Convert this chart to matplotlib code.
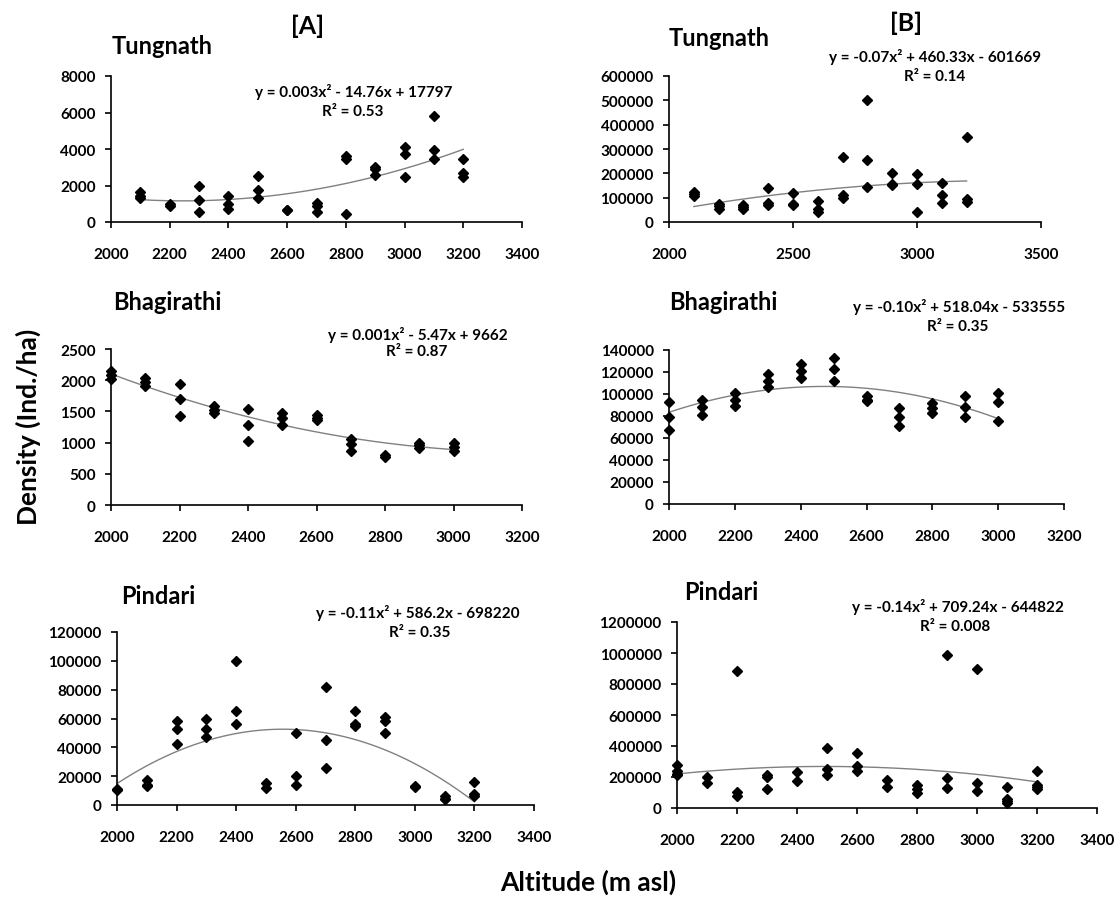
import matplotlib
matplotlib.use("Agg")
import matplotlib.pyplot as plt
import numpy as np

plt.rcParams['font.family'] = ['Lato', 'DejaVu Sans']
plt.rcParams['font.weight'] = 'bold'

# ---- data (altitude in m asl, density in ind./ha) ----
tung_a_alt = [2100, 2200, 2300, 2400, 2500, 2600, 2700, 2800, 2900, 3000, 3100, 3200]
tung_a_vals = [[1650, 1450, 1300], [1000, 900], [2000, 1200, 550], [1400, 1000, 700],
               [2500, 1750, 1300], [680, 640], [1050, 900, 550], [3600, 3450, 450],
               [3000, 2880, 2580], [4100, 3700, 2450], [5800, 3950, 3450], [3450, 2700, 2450]]

tung_b_alt = [2100, 2200, 2300, 2400, 2500, 2600, 2700, 2800, 2900, 3000, 3100, 3200]
tung_b_vals = [[125000, 115000, 108000], [75000, 65000, 55000], [68000, 60000, 52000],
               [138000, 80000, 70000], [118000, 74000, 70000], [86000, 52000, 42000],
               [268000, 110000, 99000], [503000, 253000, 144000], [200000, 158000, 153000],
               [196000, 155000, 43000], [162000, 110000, 77000], [350000, 95000, 84000]]

bhag_a_alt = [2000, 2100, 2200, 2300, 2400, 2500, 2600, 2700, 2800, 2900, 3000]
bhag_a_vals = [[2150, 2080, 2020], [2040, 1970, 1900], [1940, 1700, 1430], [1580, 1530, 1480],
               [1540, 1280, 1020], [1480, 1390, 1280], [1450, 1400, 1360], [1050, 980, 860],
               [800, 770], [1000, 960, 915], [990, 935, 860]]

bhag_b_alt = [2000, 2100, 2200, 2300, 2400, 2500, 2600, 2700, 2800, 2900, 3000]
bhag_b_vals = [[93000, 79500, 67000], [95000, 88500, 81000], [101000, 95000, 89500],
               [118000, 112000, 106000], [127500, 121000, 115000], [133000, 122500, 112000],
               [98500, 95000, 94000], [87000, 79500, 70500], [92000, 87000, 82500],
               [98000, 88500, 79500], [101000, 92500, 75500]]

pind_a_alt = [2000, 2100, 2200, 2300, 2400, 2500, 2600, 2700, 2800, 2900, 3000, 3100, 3200]
pind_a_vals = [[11000, 10500], [17500, 14000, 13000], [58000, 52500, 42500], [60000, 53000, 47500],
               [100000, 65500, 56500], [15500, 12000], [50000, 20000, 14000], [82000, 45000, 25500],
               [65500, 56000, 55000], [61000, 58500, 50000], [13000, 12500], [6000, 4500, 4000],
               [16000, 7800, 6000]]

pind_b_alt = [2000, 2100, 2200, 2300, 2400, 2500, 2600, 2700, 2800, 2900, 3000, 3100, 3200]
pind_b_vals = [[280000, 237000, 220000, 210000], [200000, 163000], [886000, 103000, 78000],
               [215000, 198000, 125000], [232000, 172000], [389000, 251000, 210000],
               [357000, 268000, 237000], [178000, 135000], [146000, 125000, 99000],
               [985000, 193000, 131000], [895000, 161000, 110000], [138000, 56000, 45000, 32000],
               [237000, 146000, 135000, 120000]]

site_names = ["Tungnath", "Tungnath", "Bhagirathi", "Bhagirathi", "Pindari", "Pindari"]
equations = ["y = 0.003x² - 14.76x + 17797", "y = -0.07x² + 460.33x - 601669",
             "y = 0.001x² - 5.47x + 9662", "y = -0.10x² + 518.04x - 533555",
             "y = -0.11x² + 586.2x - 698220", "y = -0.14x² + 709.24x - 644822"]
r2_labels = ["R² = 0.53", "R² = 0.14", "R² = 0.87", "R² = 0.35", "R² = 0.35", "R² = 0.008"]

W, H = 1115, 903
fig = plt.figure(figsize=(W / 100, H / 100), dpi=100)


def px_axes(left, top, right, bottom):
    return fig.add_axes([left / W, 1 - bottom / H, (right - left) / W, (bottom - top) / H])


def ftext(x, y, s, **kw):
    fig.text(x / W, 1 - y / H, s, **kw)


panels = [
    # data, axes box (px), xlim, xstep, ylim, ystep, title pos, eq pos, r2 pos
    (tung_a_alt, tung_a_vals, (111, 77, 522, 223), (2000, 3400), 200, (0, 8000), 2000,
     (112, 47), (354, 92), (353, 112)),
    (tung_b_alt, tung_b_vals, (669, 77, 1041, 223), (2000, 3500), 500, (0, 600000), 100000,
     (669, 38), (935, 57), (935, 77)),
    (bhag_a_alt, bhag_a_vals, (111, 350, 522, 506), (2000, 3200), 200, (0, 2500), 500,
     (113, 302), (418, 335), (417, 352)),
    (bhag_b_alt, bhag_b_vals, (669, 351, 1064, 505), (2000, 3200), 200, (0, 140000), 20000,
     (669, 303), (959, 307), (958, 327)),
    (pind_a_alt, pind_a_vals, (117, 633, 534, 806), (2000, 3400), 200, (0, 120000), 20000,
     (121, 597), (418, 613), (420, 633)),
    (pind_b_alt, pind_b_vals, (677, 623, 1097, 809), (2000, 3400), 200, (0, 1200000), 200000,
     (684, 592), (958, 607), (955, 627)),
]

for i, (alt, vals, box, xlim, xstep, ylim, ystep, tpos, epos, rpos) in enumerate(panels):
    ax = px_axes(*box)
    xs = np.concatenate([[a] * len(v) for a, v in zip(alt, vals)]).astype(float)
    ys = np.concatenate(vals).astype(float)

    # Excel-style 2nd order polynomial trend line over the data range
    coef = np.polyfit(xs, ys, 2)
    xf = np.linspace(xs.min(), xs.max(), 200)
    ax.plot(xf, np.polyval(coef, xf), color='#808080', lw=1.0, zorder=2)

    ax.plot(xs, ys, 'D', color='black', ms=5, zorder=3, clip_on=False)

    ax.set_xlim(*xlim)
    ax.set_ylim(*ylim)
    ax.set_xticks(np.arange(xlim[0], xlim[1] + 1, xstep))
    ax.set_yticks(np.arange(ylim[0], ylim[1] + 1, ystep))
    ax.ticklabel_format(style='plain', useOffset=False)
    for s in ['top', 'right']:
        ax.spines[s].set_visible(False)
    for s in ['left', 'bottom']:
        ax.spines[s].set_linewidth(1.2)
        ax.spines[s].set_color('black')
    ax.tick_params(axis='both', direction='out', length=4, width=1.2, labelsize=11)
    ax.tick_params(axis='x', pad=14)
    ax.tick_params(axis='y', pad=7)
    for lab in ax.get_xticklabels() + ax.get_yticklabels():
        lab.set_fontweight('bold')

    ftext(tpos[0], tpos[1], site_names[i], fontsize=17, fontweight='bold',
          ha='left', va='center')
    ftext(epos[0], epos[1], equations[i], fontsize=11, fontweight='bold',
          ha='center', va='center')
    ftext(rpos[0], rpos[1], r2_labels[i], fontsize=11, fontweight='bold',
          ha='center', va='center')

ftext(308, 26, "[A]", fontsize=18, fontweight='bold', ha='center', va='center')
ftext(906, 23, "[B]", fontsize=18, fontweight='bold', ha='center', va='center')
ftext(28, 427, "Density (Ind./ha)", fontsize=19, fontweight='bold', rotation=90,
      ha='center', va='center')
ftext(588, 882, "Altitude (m asl)", fontsize=19, fontweight='bold', ha='center', va='center')

fig.savefig("out.png", dpi=100)
